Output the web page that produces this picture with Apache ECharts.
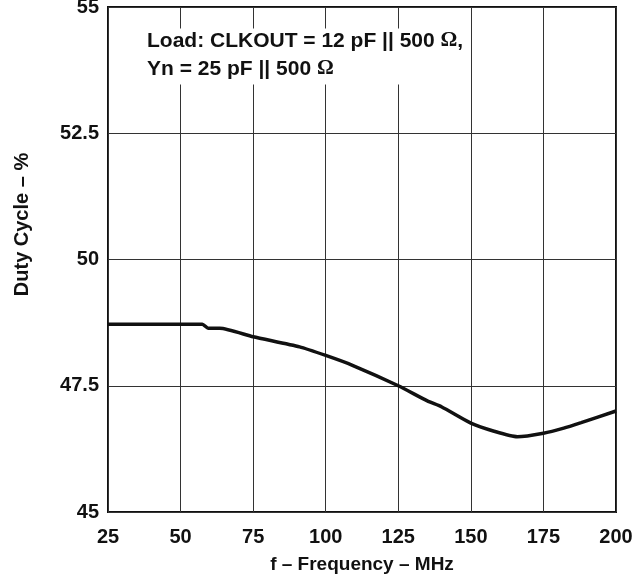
<!DOCTYPE html>
<html>
<head>
<meta charset="utf-8">
<script src="https://cdn.jsdelivr.net/npm/echarts@6/dist/echarts.min.js"></script>
<style>
  html, body { margin: 0; padding: 0; background: #fff; }
  #chart { width: 640px; height: 577px; }
</style>
</head>
<body>
<div id="chart"></div>
<script>
// duty cycle vs frequency
var freq = [25, 57.5, 59.5, 63.5, 75, 91, 100, 109, 125, 135, 140, 150, 158, 166, 175, 182, 188, 200];
var duty = [48.72, 48.72, 48.64, 48.64, 48.47, 48.27, 48.1, 47.91, 47.5, 47.2, 47.08, 46.76, 46.6, 46.49, 46.56, 46.66, 46.77, 47.0];
var xTicks = [25, 50, 75, 100, 125, 150, 175, 200];
var yTicks = [45, 47.5, 50, 52.5, 55];

var chart = echarts.init(document.getElementById('chart'));

var points = freq.map(function (f, i) { return [f, duty[i]]; });
var labelFont = 'Liberation Sans, Arial, sans-serif';

var option = {
  animation: false,
  title: {
    left: 110,
    top: 25,
    padding: [2, 6, 5, 37],
    backgroundColor: '#fff',
    text: '{b|Load: CLKOUT = 12 pF || 500 }{o|Ω}{b|,}\n{b|Yn = 25 pF || 500 }{o|Ω}',
    textStyle: {
      rich: {
        b: { fontFamily: labelFont, fontWeight: 'bold', fontSize: 21, color: '#111', lineHeight: 28 },
        o: { fontFamily: 'Liberation Serif, Times New Roman, serif', fontSize: 21, color: '#111', lineHeight: 28 }
      }
    }
  },
  grid: {
    left: 108,
    right: 24,
    top: 7,
    bottom: 65,
    outerBoundsMode: 'none',
    containLabel: false,
    show: true,
    borderColor: '#111',
    borderWidth: 2,
    backgroundColor: 'transparent'
  },
  xAxis: {
    type: 'value',
    min: xTicks[0],
    max: xTicks[xTicks.length - 1],
    interval: 25,
    name: 'f – Frequency – MHz',
    nameLocation: 'middle',
    nameGap: 43,
    nameTextStyle: { fontFamily: labelFont, fontWeight: 'bold', fontSize: 19, color: '#111' },
    axisLine: { show: false },
    axisTick: { show: false },
    axisLabel: { fontFamily: labelFont, fontWeight: 'bold', fontSize: 20, color: '#111', margin: 15 },
    splitLine: { lineStyle: { color: '#333', width: 1 } }
  },
  yAxis: {
    type: 'value',
    min: yTicks[0],
    max: yTicks[yTicks.length - 1],
    interval: 2.5,
    name: 'Duty Cycle – %',
    nameLocation: 'middle',
    nameGap: 76,
    nameTextStyle: { fontFamily: labelFont, fontWeight: 'bold', fontSize: 20, color: '#111', padding: [0, 0, 0, 70] },
    axisLine: { show: false },
    axisTick: { show: false },
    axisLabel: { fontFamily: labelFont, fontWeight: 'bold', fontSize: 20, color: '#111', margin: 9 },
    splitLine: { lineStyle: { color: '#333', width: 1 } }
  },
  series: [{
    type: 'line',
    data: points,
    showSymbol: false,
    smooth: 0.2,
    lineStyle: { color: '#111', width: 3.5 }
  }]
};

chart.setOption(option);
</script>
</body>
</html>
